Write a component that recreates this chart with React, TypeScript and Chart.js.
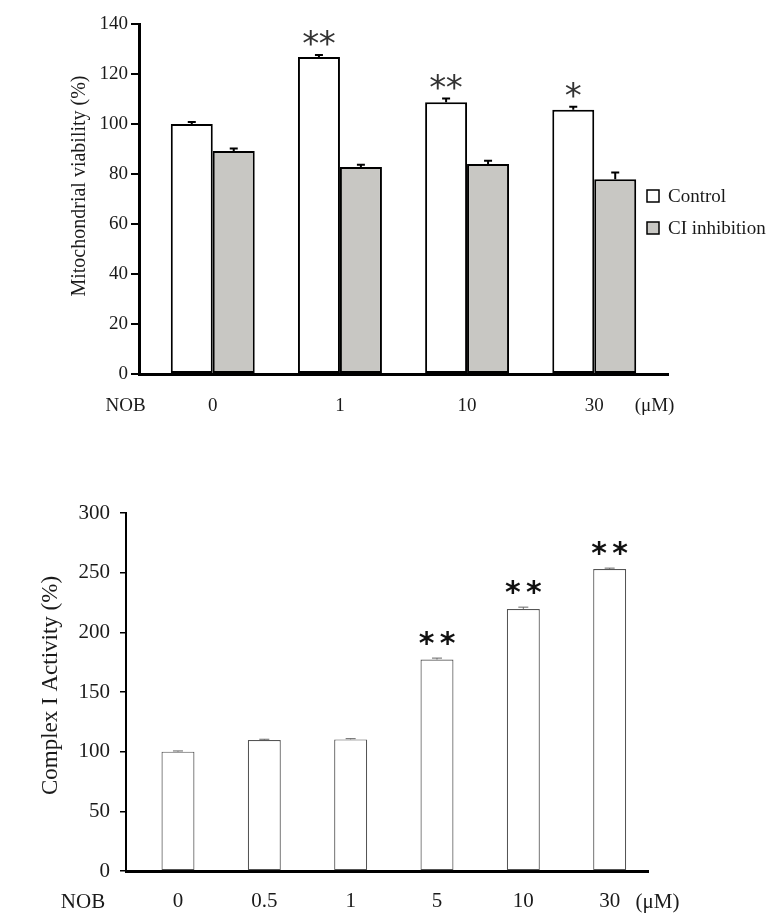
import React, { useEffect, useRef } from 'react';
import { Chart, registerables } from 'chart.js';

Chart.register(...registerables);

const SERIF = '"Liberation Serif", "Times New Roman", serif';
const SYM = '"DejaVu Sans", sans-serif';

// ---------- Top chart data ----------
const topCategories = ['0', '1', '10', '30'];
const topControl = [100, 126.8, 108.7, 105.7];
const topControlErr = [0.8, 0.8, 1.5, 1.2];
const topInhibition = [89.2, 82.8, 84.0, 77.9];
const topInhibitionErr = [1.0, 0.9, 1.3, 2.7];
const topSig = ['', '**', '**', '*'];
const topSeriesNames = ['Control', 'CI inhibition'];

// ---------- Bottom chart data ----------
const bottomCategories = ['0', '0.5', '1', '5', '10', '30'];
const bottomValues = [100, 109.8, 110.3, 177.2, 219.6, 253];
const bottomErr = [0.6, 0.6, 0.6, 1.2, 1.5, 0.8];
const bottomSig = ['', '', '', '**', '**', '**'];

const annotPlugin = {
  id: 'annot',
  afterDatasetsDraw(chart: any, _args: any, opts: any) {
    const { ctx } = chart;
    const yScale = chart.scales.y;
    chart.data.datasets.forEach((ds: any, di: number) => {
      const meta = chart.getDatasetMeta(di);
      meta.data.forEach((el: any, i: number) => {
        const v = ds.data[i].y;
        const e = ds.errors ? ds.errors[i] : 0;
        const yTop = yScale.getPixelForValue(v + e);
        ctx.save();
        ctx.strokeStyle = opts.errColor;
        ctx.lineWidth = opts.errWidth;
        ctx.beginPath();
        ctx.moveTo(el.x, el.y);
        ctx.lineTo(el.x, yTop);
        ctx.moveTo(el.x - opts.capWidth / 2, yTop);
        ctx.lineTo(el.x + opts.capWidth / 2, yTop);
        ctx.stroke();
        const sig = ds.sig ? ds.sig[i] : '';
        if (sig) {
          ctx.font = opts.sigFont;
          ctx.fillStyle = opts.sigColor;
          ctx.textAlign = 'center';
          ctx.textBaseline = 'alphabetic';
          const m = ctx.measureText('*');
          const cy = yTop - opts.sigGap;
          const base = cy + (m.actualBoundingBoxAscent - m.actualBoundingBoxDescent) / 2;
          for (let k = 0; k < sig.length; k++) {
            ctx.fillText(sig[k], el.x + (k - (sig.length - 1) / 2) * opts.sigSpacing, base);
          }
        }
        ctx.restore();
      });
    });
  },
  afterDraw(chart: any, _args: any, opts: any) {
    const { ctx, chartArea: ca } = chart;
    ctx.save();
    ctx.fillStyle = opts.textColor;
    ctx.font = opts.titleFont;
    ctx.translate(opts.titleX, opts.titleY);
    ctx.rotate(-Math.PI / 2);
    ctx.textAlign = 'center';
    ctx.textBaseline = 'middle';
    ctx.fillText(opts.title, 0, 0);
    ctx.restore();

    ctx.save();
    ctx.fillStyle = opts.textColor;
    ctx.font = opts.axisFont;
    ctx.textAlign = 'center';
    ctx.textBaseline = 'middle';
    ctx.fillText(opts.prefix, opts.prefixX, ca.bottom + opts.labelDy);
    ctx.fillText(opts.unit, opts.unitX, ca.bottom + opts.labelDy);
    ctx.restore();

    if (opts.legend) {
      ctx.save();
      chart.data.datasets.forEach((ds: any, i: number) => {
        const cy = ca.top + opts.legendY + i * opts.legendStep;
        const bx = ca.right + opts.legendDx;
        ctx.fillStyle = ds.backgroundColor;
        ctx.fillRect(bx, cy - 6, 12, 12);
        ctx.strokeStyle = '#000';
        ctx.lineWidth = 1.5;
        ctx.strokeRect(bx, cy - 6, 12, 12);
        ctx.fillStyle = opts.textColor;
        ctx.font = opts.legendFont;
        ctx.textAlign = 'left';
        ctx.textBaseline = 'middle';
        ctx.fillText(ds.label, bx + 21, cy + 1);
      });
      ctx.restore();
    }
  },
};

function makeTopConfig(): any {
  return {
    type: 'bar',
    data: {
      datasets: [
        {
          label: topSeriesNames[0],
          data: topControl.map((v, i) => ({ x: i, y: v })),
          errors: topControlErr,
          sig: topSig,
          backgroundColor: '#ffffff',
          borderColor: '#000000',
          borderWidth: 2,
          borderSkipped: false,
          categoryPercentage: 0.66,
          barPercentage: 1.0,
        },
        {
          label: topSeriesNames[1],
          data: topInhibition.map((v, i) => ({ x: i, y: v })),
          errors: topInhibitionErr,
          backgroundColor: '#c8c7c3',
          borderColor: '#000000',
          borderWidth: 2,
          borderSkipped: false,
          categoryPercentage: 0.66,
          barPercentage: 1.0,
        },
      ],
    },
    options: {
      responsive: false,
      animation: false,
      devicePixelRatio: 1,
      layout: { padding: { left: 0, right: 112, top: 24, bottom: 0 } },
      plugins: {
        legend: { display: false },
        tooltip: { enabled: false },
        annot: {
          errColor: '#000',
          errWidth: 2,
          capWidth: 8,
          sigFont: `34px ${SYM}`,
          sigColor: '#333',
          sigSpacing: 16.5,
          sigGap: 17,
          textColor: '#1a1a1a',
          title: 'Mitochondrial viability (%)',
          titleFont: `20px ${SERIF}`,
          titleX: 80,
          titleY: 186,
          axisFont: `19px ${SERIF}`,
          prefix: 'NOB',
          prefixX: 125.5,
          unit: '(\u03bcM)',
          unitX: 654.5,
          labelDy: 32,
          legend: true,
          legendFont: `19px ${SERIF}`,
          legendDx: -21,
          legendY: 172,
          legendStep: 32,
        },
      },
      scales: {
        x: {
          type: 'linear',
          min: -0.58,
          max: 3.58,
          offset: false,
          grid: { display: false, drawTicks: false },
          border: { display: true, width: 3, color: '#000' },
          afterBuildTicks: (scale: any) => {
            scale.ticks = topCategories.map((_, i) => ({ value: i }));
          },
          afterFit: (scale: any) => {
            scale.height = 66;
          },
          ticks: {
            autoSkip: false,
            maxRotation: 0,
            padding: 21,
            color: '#1a1a1a',
            font: { family: SERIF, size: 19 },
            callback: (v: any) => topCategories[v],
          },
        },
        y: {
          min: 0,
          max: 140,
          grid: { display: true, drawOnChartArea: false, drawTicks: true, tickLength: 8, lineWidth: 2, color: '#000' },
          border: { display: true, width: 3, color: '#000' },
          afterFit: (scale: any) => {
            scale.width = 139;
          },
          ticks: {
            stepSize: 20,
            padding: 3,
            color: '#1a1a1a',
            font: { family: SERIF, size: 19 },
          },
        },
      },
    },
    plugins: [annotPlugin],
  };
}

function makeBottomConfig(): any {
  return {
    type: 'bar',
    data: {
      datasets: [
        {
          label: 'Complex I Activity',
          data: bottomValues.map((v, i) => ({ x: i, y: v })),
          errors: bottomErr,
          sig: bottomSig,
          backgroundColor: '#ffffff',
          borderColor: '#555555',
          borderWidth: 1.2,
          borderSkipped: false,
          categoryPercentage: 0.382,
          barPercentage: 1.0,
        },
      ],
    },
    options: {
      responsive: false,
      animation: false,
      devicePixelRatio: 1,
      layout: { padding: { left: 0, right: 132, top: 73, bottom: 0 } },
      plugins: {
        legend: { display: false },
        tooltip: { enabled: false },
        annot: {
          errColor: '#666',
          errWidth: 1,
          capWidth: 10,
          sigFont: `bold 30px ${SYM}`,
          sigColor: '#111',
          sigSpacing: 21,
          sigGap: 20,
          textColor: '#1a1a1a',
          title: 'Complex I Activity (%)',
          titleFont: `23px ${SERIF}`,
          titleX: 51,
          titleY: 245.5,
          axisFont: `21px ${SERIF}`,
          prefix: 'NOB',
          prefixX: 83,
          unit: '(\u03bcM)',
          unitX: 657.5,
          labelDy: 31,
          legend: false,
        },
      },
      scales: {
        x: {
          type: 'linear',
          min: -0.602,
          max: 5.444,
          offset: false,
          grid: { display: false, drawTicks: false },
          border: { display: true, width: 3, color: '#000' },
          afterBuildTicks: (scale: any) => {
            scale.ticks = bottomCategories.map((_, i) => ({ value: i }));
          },
          afterFit: (scale: any) => {
            scale.height = 53;
          },
          ticks: {
            autoSkip: false,
            maxRotation: 0,
            padding: 18,
            color: '#1a1a1a',
            font: { family: SERIF, size: 21 },
            callback: (v: any) => bottomCategories[v],
          },
        },
        y: {
          min: 0,
          max: 300,
          grid: { display: true, drawOnChartArea: false, drawTicks: true, tickLength: 6, lineWidth: 1.5, color: '#000' },
          border: { display: true, width: 2, color: '#000' },
          afterFit: (scale: any) => {
            scale.width = 126;
          },
          ticks: {
            stepSize: 50,
            padding: 10,
            color: '#1a1a1a',
            font: { family: SERIF, size: 21 },
          },
        },
      },
    },
    plugins: [annotPlugin],
  };
}

function ChartCanvas({ make, top, height }: { make: () => any; top: number; height: number }) {
  const ref = useRef<HTMLCanvasElement>(null);
  useEffect(() => {
    const chart = new Chart(ref.current as HTMLCanvasElement, make());
    return () => chart.destroy();
  }, [make]);
  return (
    <canvas
      ref={ref}
      width={780}
      height={height}
      style={{ position: 'absolute', left: 0, top, width: 780, height, display: 'block' }}
    />
  );
}

export default function App() {
  return (
    <div style={{ position: 'fixed', left: 0, top: 0, width: 780, height: 924, background: '#fff' }}>
      <ChartCanvas make={makeTopConfig} top={0} height={440} />
      <ChartCanvas make={makeBottomConfig} top={440} height={484} />
    </div>
  );
}
